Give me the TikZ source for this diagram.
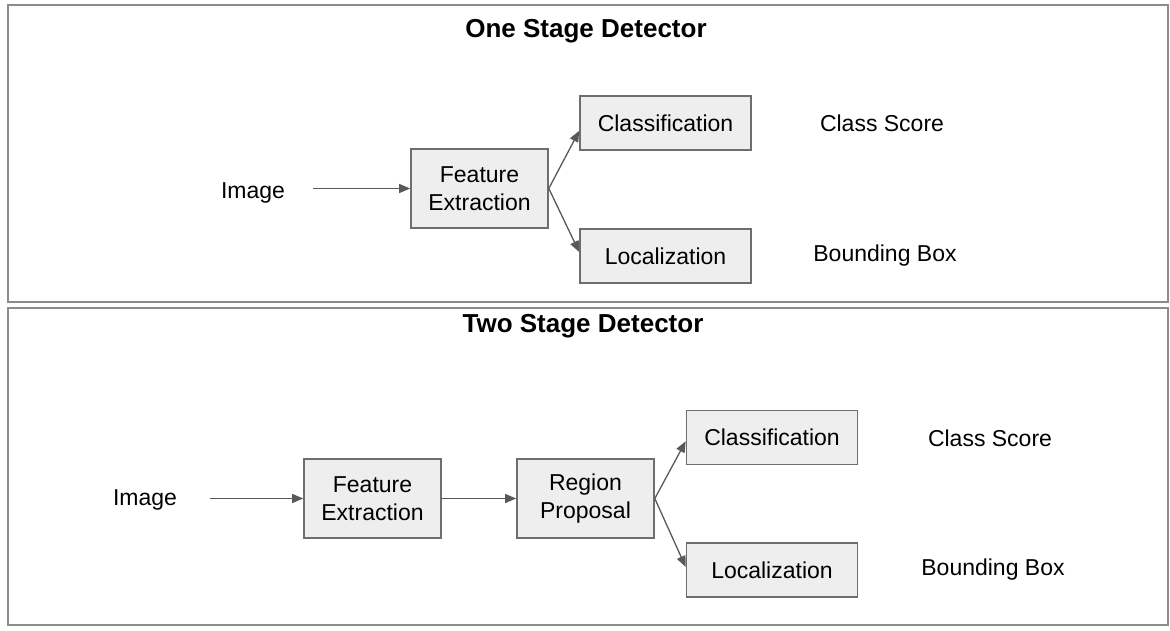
\documentclass[tikz,border=0pt]{standalone}
\usepackage{fontspec}
\setmainfont{Liberation Sans}
\usetikzlibrary{arrows.meta}
\definecolor{boxfill}{HTML}{EEEEEE}
\definecolor{boxline}{HTML}{6E6E6E}
\definecolor{arrowline}{HTML}{595959}
\definecolor{frameline}{HTML}{8C8C8C}
\begin{document}
\begin{tikzpicture}[x=1pt, y=-1pt,
    every node/.style = {font=\fontsize{23}{28}\selectfont, align=center},
    stage/.style      = {draw=boxline, line width=1.6pt, fill=boxfill, inner sep=0pt},
    title/.style      = {font=\fontsize{26}{30}\selectfont\bfseries},
    flow/.style       = {draw=arrowline, line width=1.3pt, -{Triangle[length=11pt,width=9pt]}}]
        \useasboundingbox (0,0) rectangle (1170,630);
        % frames
        \draw[frameline, line width=1.8pt] (8,5)   rectangle (1168,302);
        \draw[frameline, line width=1.8pt] (8,308) rectangle (1168,625);
        % one stage
        \node[title] (onetitle) at (586,31) {One Stage Detector};
        \node (oneimg)  at (253,193) {Image};
        \coordinate (oneimgend) at (313,188.5);
        \node[stage, minimum width=137pt, minimum height=79pt] (onefeat) at (479.5,188.5) {Feature\\Extraction};
        \node[stage, minimum width=171pt, minimum height=54pt] (onecls)  at (665.5,123) {Classification};
        \node[stage, minimum width=171pt, minimum height=54pt] (oneloc)  at (665.5,256) {Localization};
        \node (onescore) at (882,123) {Class Score};
        \node (onebox)   at (885,256) {Bounding Box};
        \draw[flow] (oneimgend) -- (onefeat.west);
        \draw[flow] (onefeat.east) -- ([yshift=20pt]onecls.south west);
        \draw[flow] (onefeat.east) -- ([yshift=4pt]oneloc.west);
        % two stage
        \node[title] (twotitle) at (583,326) {Two Stage Detector};
        \node (twoimg)  at (145,500) {Image};
        \coordinate (twoimgend) at (210,498.5);
        \node[stage, minimum width=137pt, minimum height=79pt] (twofeat) at (372.5,498.5) {Feature\\Extraction};
        \node[stage, minimum width=137pt, minimum height=79pt] (tworeg)  at (585.5,498.5) {Region\\Proposal};
        \node[stage, minimum width=171pt, minimum height=54pt] (twocls)  at (772,437.5) {Classification};
        \node[stage, minimum width=171pt, minimum height=54pt] (twoloc)  at (772,570) {Localization};
        \node (twoscore) at (990,438) {Class Score};
        \node (twobox)   at (993,570) {Bounding Box};
        \draw[flow] (twoimgend) -- (twofeat.west);
        \draw[flow] (twofeat.east) -- (tworeg.west);
        \draw[flow] (tworeg.east) -- ([yshift=24pt]twocls.south west);
        \draw[flow] (tworeg.east) -- ([yshift=3pt]twoloc.west);
\end{tikzpicture}
\end{document}
